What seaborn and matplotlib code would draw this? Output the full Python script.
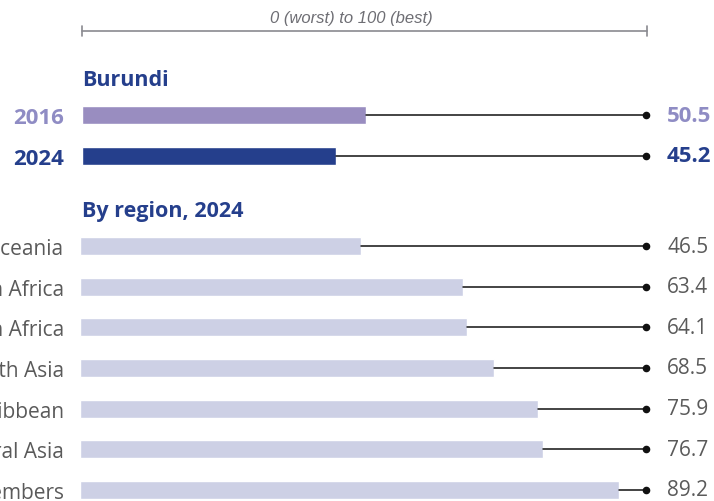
import matplotlib
matplotlib.use("Agg")
import matplotlib.pyplot as plt
from matplotlib.lines import Line2D
import seaborn as sns
import pandas as pd

# data
years = ["2016", "2024"]
burundi_scores = [50.5, 45.2]
regions = ["Oceania", "Sub-Saharan Africa", "Middle East & North Africa",
           "East & South Asia", "Latin America & the Caribbean",
           "Eastern Europe & Central Asia", "OECD members"]
region_scores = [46.5, 63.4, 64.1, 68.5, 75.9, 76.7, 89.2]

c2016 = "#998dc0"
c2016_txt = "#8f8cc4"
c2024 = "#253f8c"
c_region = "#cdd0e5"
grey_txt = "#5a5a5a"

sns.set_theme(style="white")
plt.rcParams['font.family'] = ['Open Sans', 'DejaVu Sans']

W, H = 714, 502
fig = plt.figure(figsize=(W / 100, H / 100), dpi=100)


def px_axes(x0, x1, ytop, ybot):
    return fig.add_axes([x0 / W, 1 - ybot / H, (x1 - x0) / W, (ybot - ytop) / H])


# Burundi axes: 0..100 -> 82..644 px, rows centered at 116 / 157
sp = 41
axA = px_axes(82, 644, 116 - sp / 2, 157 + sp / 2)
dfA = pd.DataFrame({"year": years, "score": burundi_scores})
sns.barplot(data=dfA, x="score", y="year", hue="year", palette=[c2016, c2024],
            orient="h", width=0.42, saturation=1, legend=False, ax=axA)
axA.set_xlim(0, 100)
axA.set_ylim(1.5, -0.5)

# region axes: 0..100 -> 80..684 px, rows from 247 to 491
sp2 = (491 - 247) / 6
axB = px_axes(80, 684, 247 - sp2 / 2, 491 + sp2 / 2)
dfB = pd.DataFrame({"region": regions, "score": region_scores})
sns.barplot(data=dfB, x="score", y="region", color=c_region, orient="h",
            width=0.44, saturation=1, ax=axB)
axB.set_xlim(0, 100)
axB.set_ylim(6.5, -0.5)


def finish(ax, x0, x1, vals, txt_colors, weight, size):
    scale = (x1 - x0) / 100
    dot = (646 - x0) / scale
    lab_x = (667 - x0) / (x1 - x0)
    for i, v in enumerate(vals):
        ax.plot([v, dot], [i, i], color="#111111", lw=1.1, clip_on=False, zorder=3)
        ax.scatter([dot], [i], s=20, color="#111111", clip_on=False, zorder=4)
        ax.text(lab_x, i, f"{v:.1f}", transform=ax.get_yaxis_transform(),
                ha="left", va="center", color=txt_colors[i], fontsize=size,
                fontweight=weight, clip_on=False)
    ax.set_xlabel("")
    ax.set_ylabel("")
    ax.set_xticks([])
    for s in ax.spines.values():
        s.set_visible(False)
    ax.tick_params(axis="y", length=0, pad=(x0 - 64) * 0.72)


finish(axA, 82, 644, burundi_scores, [c2016_txt, c2024], "bold", 16)
finish(axB, 80, 684, region_scores, [grey_txt] * 7, "normal", 15)

for lab, col in zip(axA.get_yticklabels(), [c2016_txt, c2024]):
    lab.set_color(col)
    lab.set_fontweight("bold")
    lab.set_fontsize(16)
for lab in axB.get_yticklabels():
    lab.set_color(grey_txt)
    lab.set_fontsize(15)

# headings
fig.text(82 / W, 1 - 80 / H, "Burundi", ha="left", va="center",
         color=c2024, fontsize=15.5, fontweight="bold")
fig.text(82 / W, 1 - 211 / H, "By region, 2024", ha="left", va="center",
         color=c2024, fontsize=15.5, fontweight="bold")

# scale bar
sy = 1 - 32 / H
fig.add_artist(Line2D([82 / W, 647 / W], [sy, sy], color="#8a8a90", lw=1.2))
for xx in (82, 647):
    fig.add_artist(Line2D([xx / W, xx / W], [sy - 5 / H, sy + 5 / H],
                          color="#8a8a90", lw=1.2))
fig.text(351 / W, 1 - 19 / H, "0 (worst) to 100 (best)", ha="center", va="center",
         color="#6e6e74", fontsize=12, style="italic",
         family=["Liberation Sans", "DejaVu Sans"])

fig.savefig("out.png", dpi=100)
